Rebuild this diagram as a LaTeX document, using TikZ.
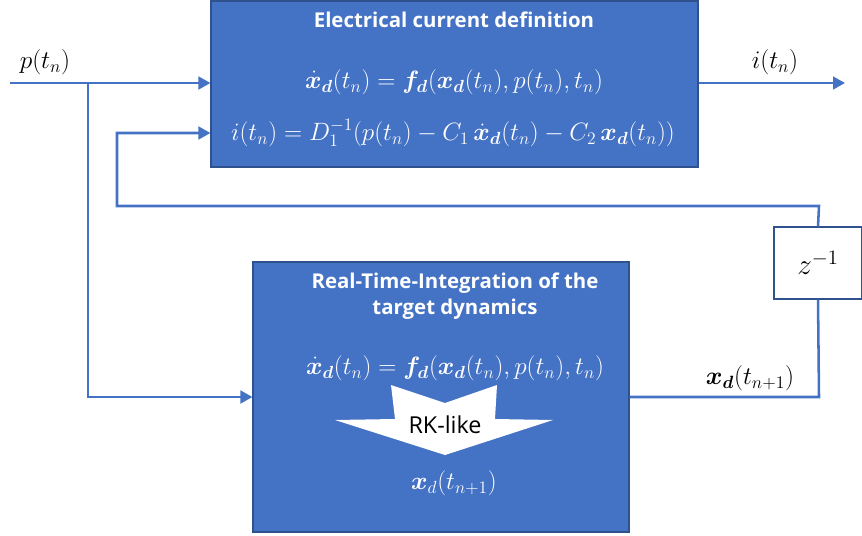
\RequirePackage{fix-cm}
\documentclass[tikz,border=0pt]{standalone}
\usepackage{amsmath}
\usepackage{bm}
\usepackage{fontspec}
\setsansfont{Open Sans}
\usetikzlibrary{arrows.meta}
\definecolor{obl}{HTML}{4472C4}
\definecolor{obd}{HTML}{2F528F}
\tikzset{
  blk/.style={draw=obd, line width=0.8pt, fill=obl, inner sep=0pt},
  zbox/.style={draw=obd, line width=0.8pt, fill=white, inner sep=0pt},
  conn/.style={draw=obl, line width=1.9pt},
  arr/.style={conn, -{Triangle[length=9pt,width=9.5pt]}},
  ttl/.style={text=white, font=\sffamily\bfseries\fontsize{15.3}{20}\selectfont, align=center},
  eqw/.style={text=white, font=\fontsize{18.8}{21}\selectfont},
  lbl/.style={text=black, font=\fontsize{19}{22}\selectfont},
}
\begin{document}
\begin{tikzpicture}[x=0.75pt,y=-0.75pt]
\useasboundingbox (0,0) rectangle (862,535);
% blocks
\node[blk, minimum width=365.25pt, minimum height=124.5pt] (top) at (454.5,84) {};
\node[blk, minimum width=282pt, minimum height=202.5pt] (bot) at (441,397) {};
\node[zbox, minimum width=66pt, minimum height=54pt] (z) at (818,263) {};
\node[font=\fontsize{22}{25}\selectfont] (zt) at (z.center) {$z^{-1}$};
% texts in top box
\node[ttl] (ttop) at (454,20) {Electrical current definition};
\node[eqw] (eq1) at (454,82) {$\dot{\bm{x}}_{\bm{d}}(t_n) = \bm{f}_{\bm{d}}(\bm{x}_{\bm{d}}(t_n), p(t_n), t_n)$};
\node[eqw] (eq2) at (453,133) {$i(t_n) = D_1^{-1}(p(t_n) - C_1\,\dot{\bm{x}}_{\bm{d}}(t_n) - C_2\,\bm{x}_{\bm{d}}(t_n))$};
% texts in bottom box
\node[ttl] (tbot) at (455,296) {Real-Time-Integration of the\\target dynamics};
\node[eqw] (eq3) at (455,368) {$\dot{\bm{x}}_{\bm{d}}(t_n) = \bm{f}_{\bm{d}}(\bm{x}_{\bm{d}}(t_n), p(t_n), t_n)$};
\fill[white] (391,385) -- (445,403) -- (497,385) -- (495,419) -- (553,420) -- (445,455) -- (335,420) -- (395,419) -- cycle;
\node[font=\sffamily\fontsize{17.5}{20}\selectfont] (rk) at (445,425) {RK-like};
\node[eqw] (eq4) at (454,483) {$\bm{x}_{d}(t_{n+1})$};
% coordinates
\coordinate (pin) at (10,83);
\coordinate (br) at (88,83);
\coordinate (pout) at (845,83);
\coordinate (fbr) at (819,397);
\coordinate (fbt) at (819,206);
\coordinate (fbl) at (117,206);
\coordinate (fbi) at (117,133);
% connectors
\draw[arr] (pin) -- (pin -| top.west);
\draw[arr] (br) |- (bot.west);
\draw[arr] (top.east |- pout) -- (pout);
\draw[conn] (bot.east |- fbr) -- (fbr) -- (z.south);
\draw[arr] (z.north) -- (fbt) -- (fbl) -- (fbi) -- (fbi -| top.west);
% labels
\node[lbl] (lp) at (45,62) {$p(t_n)$};
\node[lbl] (li) at (775,62) {$i(t_n)$};
\node[lbl] (lx) at (750,378) {$\bm{x}_{\bm{d}}(t_{n+1})$};
\end{tikzpicture}
\end{document}
